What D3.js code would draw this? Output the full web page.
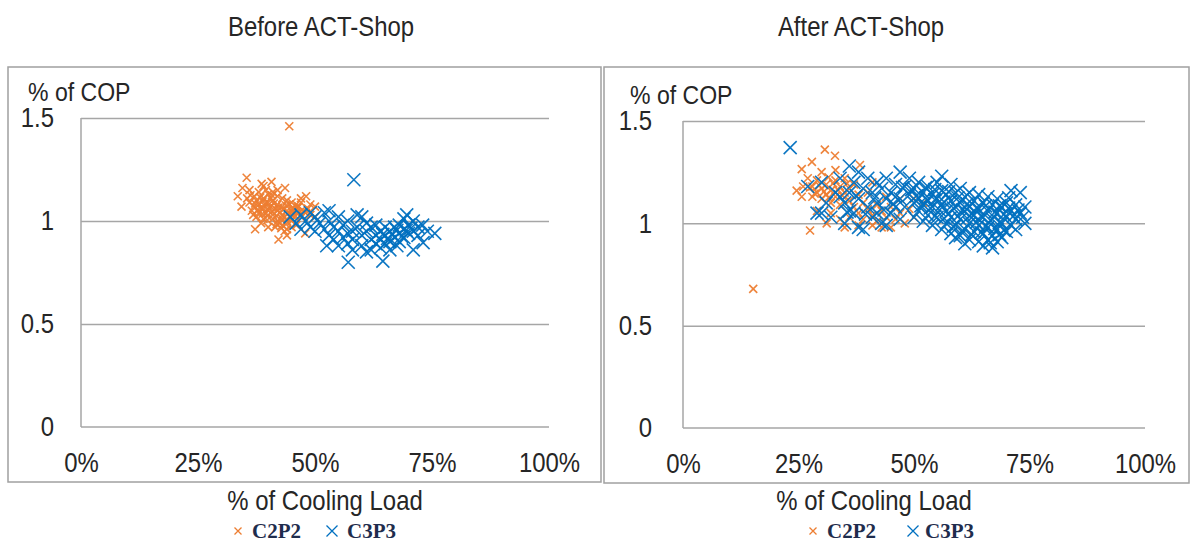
<!DOCTYPE html>
<html><head><meta charset="utf-8">
<script src="https://cdn.jsdelivr.net/npm/d3@7"></script>
<style>
html,body{margin:0;padding:0;background:#fff;}
</style></head>
<body>
<svg id="chart" width="1190" height="544"></svg>
<script>
// ---------- data ----------
const panelTitles = ["Before ACT-Shop", "After ACT-Shop"];
const seriesNames = ["C2P2", "C3P3"];
const xTicks = [0, 0.25, 0.5, 0.75, 1];
const yTicks = [0, 0.5, 1, 1.5];

const beforeC2P2 = [
[0.445,1.46],[0.354,1.21],[0.345,1.16],[0.335,1.12],[0.343,1.07],[0.368,1.03],[0.372,0.96],[0.422,0.91],
[0.407,1.19],[0.436,1.16],[0.386,1.18],[0.481,1.12],[0.479,0.94],[0.50,1.07],
[0.37,1.12],[0.375,1.10],[0.38,1.08],[0.385,1.06],[0.39,1.11],[0.395,1.09],[0.40,1.05],[0.40,1.13],
[0.405,1.07],[0.41,1.03],[0.41,1.10],[0.415,1.06],[0.42,1.08],[0.42,1.00],[0.425,1.04],[0.43,1.07],
[0.43,0.98],[0.435,1.02],[0.44,1.05],[0.44,0.96],[0.445,1.08],[0.45,1.03],[0.45,1.00],[0.455,1.06],
[0.46,1.04],[0.46,0.98],[0.465,1.07],[0.47,1.02],[0.475,1.05],[0.48,1.04],[0.485,1.06],[0.49,1.03],
[0.38,1.14],[0.39,1.01],[0.395,1.15],[0.36,1.09],[0.365,1.05],[0.375,1.02],[0.385,0.99],[0.40,0.97],
[0.41,1.14],[0.42,1.12],[0.43,1.11],[0.44,1.10],[0.45,1.09],[0.46,1.08],[0.47,1.09],[0.37,1.07],
[0.38,1.04],[0.39,1.06],[0.40,1.09],[0.41,1.01],[0.42,1.05],[0.43,1.03],[0.44,1.00],[0.45,1.06],
[0.435,0.95],[0.425,0.99],[0.415,0.97],[0.44,0.93],[0.45,0.97],[0.405,1.11],[0.395,1.04],[0.355,1.11],
[0.36,1.15],[0.39,1.17],[0.42,1.15],[0.47,1.11],[0.49,1.08],[0.50,1.02],
[0.372,1.085],[0.378,1.055],[0.383,1.115],[0.388,1.035],[0.392,1.075],[0.398,1.025],[0.402,1.065],
[0.408,1.045],[0.412,1.085],[0.418,1.025],[0.422,1.065],[0.428,1.015],[0.432,1.055],[0.438,1.075],
[0.442,1.035],[0.448,1.015],[0.452,1.045],[0.458,1.025],[0.462,1.065],[0.468,1.045],[0.398,1.005],
[0.418,0.985],[0.428,0.965],[0.438,0.985],[0.388,1.095],[0.408,1.125],[0.362,1.125]
];
const beforeC3P3 = [
[0.583,1.20],[0.571,0.80],[0.645,0.805],[0.756,0.94],[0.447,1.02],[0.696,1.03],[0.71,0.86],[0.731,0.895],
[0.525,0.88],[0.61,0.85],
[0.46,0.99],[0.47,1.03],[0.48,1.00],[0.49,0.97],[0.50,1.02],[0.51,0.99],[0.52,0.96],[0.52,1.04],
[0.53,0.93],[0.53,1.00],[0.54,0.97],[0.54,0.91],[0.55,1.02],[0.55,0.95],[0.56,0.98],[0.56,0.92],
[0.57,0.89],[0.57,1.00],[0.58,0.95],[0.58,0.91],[0.59,1.03],[0.59,0.97],[0.60,0.93],[0.60,0.88],
[0.61,0.99],[0.61,0.95],[0.62,0.91],[0.62,0.97],[0.63,0.93],[0.63,0.89],[0.64,0.95],[0.64,0.91],
[0.65,0.97],[0.65,0.93],[0.66,0.90],[0.66,0.95],[0.67,0.92],[0.67,0.97],[0.68,0.94],[0.68,0.90],
[0.69,0.96],[0.69,0.92],[0.70,0.98],[0.70,0.94],[0.71,1.00],[0.71,0.95],[0.72,0.97],[0.72,0.93],
[0.73,0.98],[0.74,0.95],[0.62,0.86],[0.64,0.87],[0.66,0.86],[0.60,1.02],[0.57,0.94],[0.55,0.88],
[0.50,0.95],[0.49,1.04],[0.53,1.05],[0.58,0.86],[0.68,0.98],[0.63,0.98],[0.65,0.89],[0.69,1.01],
[0.47,0.96],[0.675,0.88],
[0.655,0.915],[0.665,0.935],[0.685,0.925],[0.695,0.955],[0.705,0.965],[0.675,0.955],[0.645,0.935]
];
const afterC2P2 = [
[0.152,0.68],[0.307,1.36],[0.329,1.33],[0.279,1.30],[0.383,1.285],[0.257,1.265],[0.246,1.16],[0.257,1.13],
[0.275,0.965],[0.311,1.0],
[0.28,1.18],[0.29,1.15],[0.29,1.21],[0.30,1.17],[0.30,1.12],[0.31,1.19],[0.31,1.14],[0.32,1.16],
[0.32,1.10],[0.33,1.21],[0.33,1.13],[0.34,1.18],[0.34,1.09],[0.35,1.15],[0.35,1.22],[0.36,1.11],
[0.36,1.17],[0.27,1.22],[0.28,1.13],[0.37,1.08],[0.37,1.19],[0.38,1.14],[0.38,1.05],[0.39,1.10],
[0.39,1.02],[0.40,1.07],[0.40,1.15],[0.41,1.04],[0.41,0.99],[0.42,1.09],[0.42,1.01],[0.43,1.06],
[0.43,0.98],[0.44,1.03],[0.45,1.08],[0.45,0.98],[0.46,1.02],[0.47,1.05],[0.48,1.00],[0.49,1.07],
[0.50,1.03],[0.50,1.12],[0.52,1.10],[0.36,1.03],[0.34,1.02],[0.32,1.05],[0.30,1.25],[0.33,1.26],
[0.29,1.06],[0.35,0.98],[0.38,0.99],[0.44,1.13],[0.47,1.12],[0.41,1.20],[0.26,1.18],
[0.295,1.185],[0.305,1.155],[0.315,1.125],[0.325,1.195],[0.335,1.165],[0.345,1.135],[0.355,1.195],
[0.285,1.145],[0.275,1.175],[0.315,1.225]
];
const afterC3P3 = [
[0.232,1.37],
[0.27,1.18],[0.29,1.05],[0.30,1.20],[0.31,1.10],[0.32,1.03],[0.33,1.15],[0.30,1.05],
[0.34,1.22],[0.35,1.10],[0.35,1.00],[0.36,1.28],[0.36,1.15],[0.37,1.05],[0.37,1.20],[0.38,1.12],
[0.38,0.98],[0.39,1.17],[0.39,0.97],[0.40,1.08],[0.40,1.22],[0.34,1.13],[0.36,1.06],[0.38,1.25],
[0.41,1.15],[0.41,1.03],[0.42,1.20],[0.42,1.10],[0.43,1.00],[0.43,1.17],[0.44,1.12],[0.44,1.22],
[0.45,1.05],[0.45,1.15],[0.46,1.08],[0.46,1.19],[0.47,1.25],[0.47,1.12],[0.47,1.02],[0.42,1.05],
[0.44,0.99],[0.46,1.13],
[0.48,1.18],[0.48,1.08],[0.49,1.14],[0.49,1.22],[0.50,1.10],[0.50,1.17],[0.50,1.03],[0.51,1.20],
[0.51,1.12],[0.51,1.06],[0.52,1.15],[0.52,1.09],[0.52,1.01],[0.53,1.18],[0.53,1.11],[0.53,1.04],
[0.54,1.14],[0.54,1.08],[0.54,0.99],[0.55,1.20],[0.55,1.12],[0.55,1.03],[0.56,1.23],[0.56,1.16],
[0.56,1.09],[0.56,0.97],
[0.57,1.14],[0.57,1.06],[0.57,1.00],[0.58,1.19],[0.58,1.11],[0.58,1.03],[0.58,0.95],[0.59,1.15],
[0.59,1.08],[0.59,0.99],[0.60,1.17],[0.60,1.10],[0.60,1.02],[0.60,0.94],[0.61,1.13],[0.61,1.06],
[0.61,0.97],[0.62,1.15],[0.62,1.08],[0.62,1.00],[0.62,0.92],[0.63,1.11],[0.63,1.04],[0.63,0.96],
[0.61,0.90],[0.59,0.93],
[0.64,1.14],[0.64,1.07],[0.64,0.99],[0.64,0.91],[0.65,1.10],[0.65,1.03],[0.65,0.95],[0.65,0.89],
[0.66,1.13],[0.66,1.06],[0.66,0.98],[0.66,0.92],[0.67,1.09],[0.67,1.02],[0.67,0.94],[0.67,0.88],
[0.68,1.12],[0.68,1.05],[0.68,0.97],[0.68,0.91],[0.69,1.08],[0.69,1.00],[0.69,0.93],[0.70,1.10],
[0.70,1.03],[0.70,0.96],[0.71,1.16],[0.71,1.06],[0.71,0.99],
[0.72,1.09],[0.72,1.02],[0.73,1.15],[0.73,1.05],[0.735,1.03],[0.74,1.00],[0.72,0.97],[0.74,1.08],
[0.505,1.135],[0.515,1.085],[0.525,1.125],[0.535,1.075],[0.545,1.115],[0.555,1.065],[0.565,1.105],
[0.575,1.045],[0.585,1.075],[0.595,1.035],[0.605,1.065],[0.615,1.025],[0.625,1.045],[0.635,1.005],
[0.645,1.035],[0.655,0.985],[0.665,1.015],[0.675,0.975],[0.685,1.005],[0.695,0.965],[0.705,1.075],
[0.715,1.035],[0.725,1.065],[0.655,1.085],[0.675,1.055],[0.695,1.045],[0.635,1.075],[0.615,1.095],
[0.595,1.125],[0.575,1.155],[0.545,1.165],[0.525,1.175],[0.495,1.165],[0.475,1.175],[0.455,1.095],
[0.435,1.065],[0.415,1.125],[0.395,1.045],[0.375,1.135],[0.355,1.055],[0.625,0.945],[0.645,0.955],
[0.665,0.905],[0.685,0.945],[0.605,0.965],[0.585,0.985],[0.565,1.025],[0.545,1.035],[0.705,1.125],
[0.685,1.085]
];

// ---------- layout ----------
const colors = {C2P2:"#ED7D31", C3P3:"#0070C0"};
const grid = "#a6a6a6";
const textColor = "#262626";
const sansFont = '"Liberation Sans", Arial, sans-serif';
const narrow = 0.87;
const fs = 27.5;
const panels = [
  {title:panelTitles[0], data:[beforeC2P2, beforeC3P3], box:[8,67,601,482],
   plot:{x0:81,x1:549,y0:118,y1:427}, yPad:27, titleX:321, axTitleX:325, legend:[238,252,332,347]},
  {title:panelTitles[1], data:[afterC2P2, afterC3P3], box:[604,67,1189,483],
   plot:{x0:683,x1:1145,y0:121,y1:428}, yPad:31, titleX:861, axTitleX:874, legend:[813,827,913,925]}
];

const svg = d3.select("#chart");
const xPath = s => `M${-s},${-s}L${s},${s}M${-s},${s}L${s},${-s}`;

function ntext(parent, x, y, str, size, anchor) {
  return parent.append("g").attr("transform",`translate(${x},${y})`)
    .append("text").attr("transform",`scale(${narrow},1)`)
    .attr("text-anchor",anchor||"start").attr("font-family",sansFont)
    .attr("font-size",size).attr("fill",textColor).text(str);
}

panels.forEach(p => {
  const g = svg.append("g");
  const [bx0,by0,bx1,by1] = p.box;
  g.append("rect").attr("x",bx0).attr("y",by0).attr("width",bx1-bx0).attr("height",by1-by0)
    .attr("fill","none").attr("stroke","#a0a0a0").attr("stroke-width",1.5);

  ntext(g, p.titleX, 36, p.title, fs, "middle");

  const x = d3.scaleLinear().domain([0,1]).range([p.plot.x0,p.plot.x1]);
  const y = d3.scaleLinear().domain([0,1.5]).range([p.plot.y1,p.plot.y0]);

  // gridlines
  const gg = g.append("g").attr("transform",`translate(${p.plot.x0},0)`)
    .call(d3.axisLeft(y).tickValues(yTicks.filter(v=>v>0)).tickSize(-(p.plot.x1-p.plot.x0)).tickFormat(""));
  gg.select(".domain").remove();
  gg.selectAll("line").attr("stroke",grid).attr("stroke-width",1.5);

  // axis lines
  g.append("line").attr("x1",p.plot.x0).attr("x2",p.plot.x0).attr("y1",p.plot.y0).attr("y2",p.plot.y1)
    .attr("stroke",grid).attr("stroke-width",1.5);
  g.append("line").attr("x1",p.plot.x0).attr("x2",p.plot.x1).attr("y1",p.plot.y1).attr("y2",p.plot.y1)
    .attr("stroke",grid).attr("stroke-width",1.5);

  // y tick labels
  const ya = g.append("g").attr("transform",`translate(${p.plot.x0},0)`)
    .call(d3.axisLeft(y).tickValues(yTicks).tickSize(0).tickPadding(p.yPad).tickFormat(d3.format("")));
  ya.select(".domain").remove();
  ya.attr("font-family",sansFont).attr("font-size",fs);
  ya.selectAll("text").attr("fill",textColor)
    .attr("x",-p.yPad/narrow).attr("transform",`scale(${narrow},1)`);

  // x tick labels
  const xa = g.append("g").attr("transform",`translate(0,${p.plot.y1})`)
    .call(d3.axisBottom(x).tickValues(xTicks).tickSize(0).tickPadding(25).tickFormat(d3.format(".0%")));
  xa.select(".domain").remove();
  xa.attr("font-family",sansFont).attr("font-size",fs);
  xa.selectAll("text").attr("fill",textColor).attr("transform",`scale(${narrow},1)`);

  // axis titles
  ntext(g, p.plot.x0-53, p.plot.y0-17, "% of COP", 26.5, "start");
  ntext(g, p.axTitleX, 510, "% of Cooling Load", fs, "middle");

  // points
  p.data.forEach((arr,i) => {
    const name = seriesNames[i];
    const s = i===0 ? 4 : 6.5;
    g.append("g").selectAll("path").data(arr).join("path")
      .attr("transform",d=>`translate(${x(d[0])},${y(d[1])})`)
      .attr("d",xPath(s)).attr("fill","none")
      .attr("stroke",colors[name]).attr("stroke-width",1.6).attr("stroke-opacity",0.95);
  });

  // legend
  const L = p.legend;
  seriesNames.forEach((name,i) => {
    g.append("path").attr("transform",`translate(${L[i*2]},531)`).attr("d",xPath(i===0?3.5:5.5))
      .attr("fill","none").attr("stroke",colors[name]).attr("stroke-width",1.3);
    g.append("text").attr("x",L[i*2+1]).attr("y",538).attr("font-size",21).attr("font-weight","bold")
      .attr("fill","#1f2d4d").attr("font-family",'"Liberation Serif","Times New Roman",serif').text(name);
  });
});
</script>
</body></html>
